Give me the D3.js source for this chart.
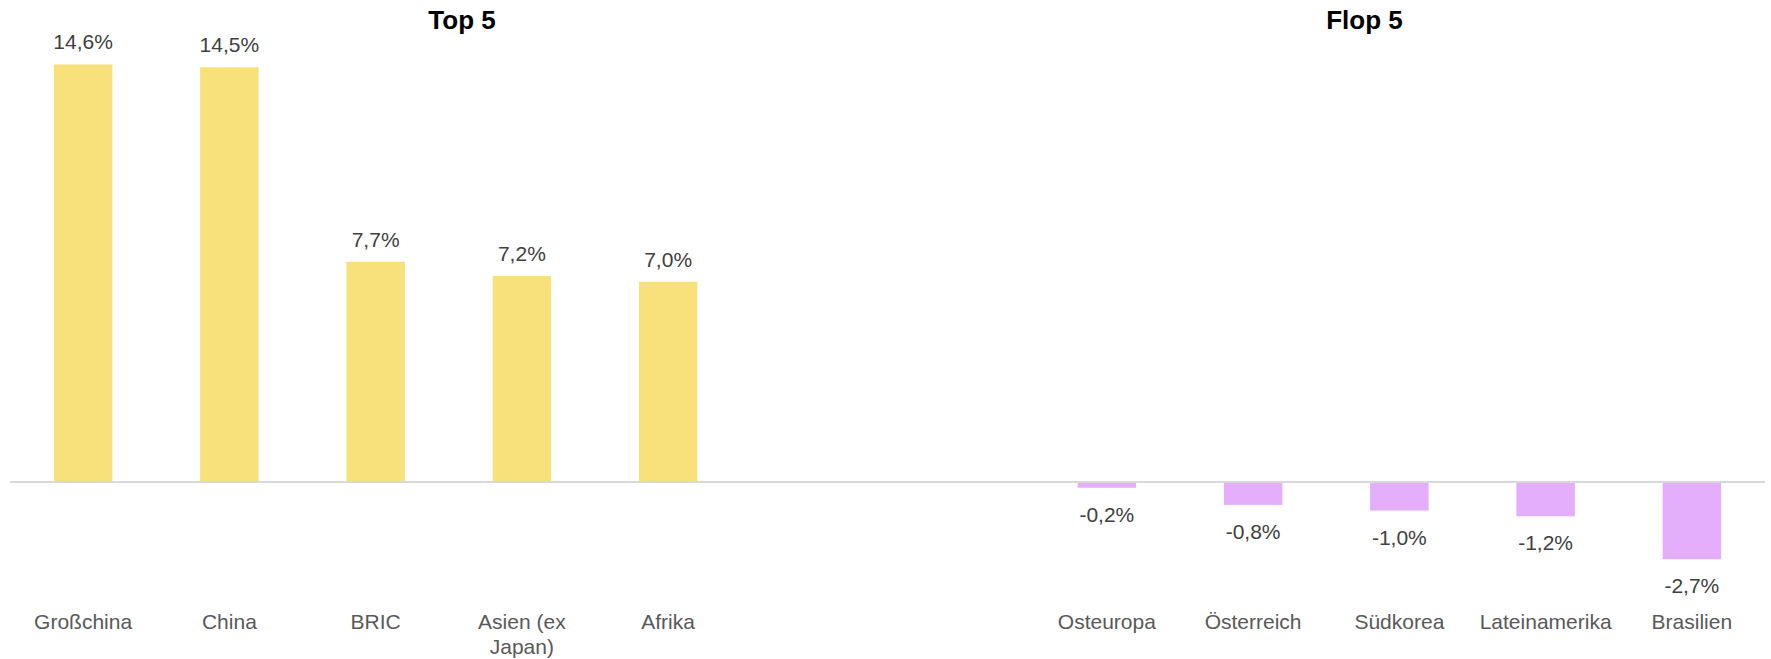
<!DOCTYPE html>
<html>
<head>
<meta charset="utf-8">
<script src="https://d3js.org/d3.v7.min.js"></script>
<style>
    body { margin: 0; background: #fff; }
    text { font-family: "Liberation Sans", Arial, sans-serif; }
</style>
</head>
<body>
<script>
    // Data
    var topCategories = ["Großchina", "China", "BRIC", "Asien (ex|Japan)", "Afrika"];
    var topValues = [14.6, 14.5, 7.7, 7.2, 7.0];
    var flopCategories = ["Osteuropa", "Österreich", "Südkorea", "Lateinamerika", "Brasilien"];
    var flopValues = [-0.2, -0.8, -1.0, -1.2, -2.7];
    var gapSlots = ["_gap1", "_gap2"];
    var titles = ["Top 5", "Flop 5"];

    var w = 1771;
    var h = 659;

    var rows = [];
    for (var i = 0; i < topCategories.length; i++) {
        rows.push({ name: topCategories[i], value: topValues[i] });
    }
    for (var i = 0; i < flopCategories.length; i++) {
        rows.push({ name: flopCategories[i], value: flopValues[i] });
    }
    var domain = topCategories.concat(gapSlots).concat(flopCategories);

    var svg = d3.select("body")
                .append("svg")
                .attr("width", w)
                .attr("height", h);

    var x = d3.scaleBand()
        .domain(domain)
        .range([10, 1765])
        .paddingInner(0.6)
        .paddingOuter(0.3);

    // zero line at 482, ~28.6px per percent
    var y = d3.scaleLinear()
        .domain([-4, 15])
        .range([482 + 4 * 28.6, 482 - 15 * 28.6]);

    var fmt = function(v) {
        return d3.format(".1f")(v).replace(".", ",").replace("−", "-") + "%";
    };

    // titles
    svg.selectAll("text.title")
        .data(titles)
        .enter()
        .append("text")
        .attr("class", "title")
        .attr("x", function(d, i) { return i == 0 ? 462 : 1364.5; })
        .attr("y", 29)
        .attr("text-anchor", "middle")
        .attr("font-size", 26)
        .attr("font-weight", "bold")
        .attr("fill", "#000")
        .text(function(d) { return d; });

    // bars
    svg.selectAll("rect.bar")
        .data(rows)
        .enter()
        .append("rect")
        .attr("class", "bar")
        .attr("x", function(d) { return x(d.name); })
        .attr("width", x.bandwidth())
        .attr("y", function(d) { return y(Math.max(0, d.value)); })
        .attr("height", function(d) { return Math.abs(y(d.value) - y(0)); })
        .attr("fill", function(d) { return d.value >= 0 ? "#f8e17b" : "#e4aefc"; });

    // zero line
    svg.append("line")
        .attr("x1", x.range()[0])
        .attr("x2", x.range()[1])
        .attr("y1", y(0))
        .attr("y2", y(0))
        .attr("stroke", "#d9d9d9")
        .attr("stroke-width", 2);

    // value labels
    svg.selectAll("text.val")
        .data(rows)
        .enter()
        .append("text")
        .attr("class", "val")
        .attr("x", function(d) { return x(d.name) + x.bandwidth() / 2; })
        .attr("y", function(d) { return d.value >= 0 ? y(d.value) - 15 : y(d.value) + 34; })
        .attr("text-anchor", "middle")
        .attr("font-size", 21)
        .attr("fill", "#404040")
        .text(function(d) { return fmt(d.value); });

    // category labels
    var cat = svg.selectAll("text.cat")
        .data(rows)
        .enter()
        .append("text")
        .attr("class", "cat")
        .attr("text-anchor", "middle")
        .attr("font-size", 21)
        .attr("fill", "#595959");

    cat.each(function(d) {
        var parts = d.name.split("|");
        var t = d3.select(this);
        for (var k = 0; k < parts.length; k++) {
            t.append("tspan")
                .attr("x", x(d.name) + x.bandwidth() / 2)
                .attr("y", 629 + k * 25)
                .text(parts[k]);
        }
    });
</script>
</body>
</html>
